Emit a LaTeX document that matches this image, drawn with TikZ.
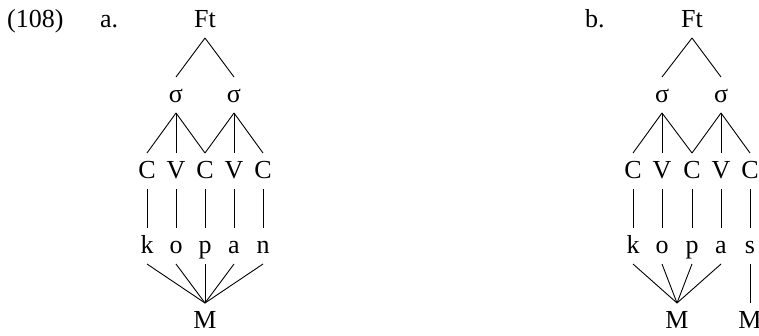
\documentclass[tikz,border=0pt]{standalone}
\usepackage{fontspec}
\setmainfont{Liberation Serif}
\begin{document}
\begin{tikzpicture}[x=1pt,y=-1pt,
  seg/.style={inner sep=0pt, outer sep=0pt, text height=25pt, text depth=11pt, anchor=base, font=\fontsize{26}{30}\selectfont},
  lbl/.style={inner sep=0pt, anchor=base west, font=\fontsize{26}{30}\selectfont},
  assoc/.style={draw, line width=0.9pt}]
\useasboundingbox (0,0) rectangle (759,335);
\node[lbl] (num) at (7,27) {(108)};
% tree a
\node[lbl] (la) at (100,27) {a.};
\node[seg] (aFt) at (205,27) {Ft};
\node[seg] (as1) at (176,102) {σ};
\node[seg] (as2) at (234,102) {σ};
\node[seg] (aC1) at (147,178) {C};
\node[seg] (aV1) at (176,178) {V};
\node[seg] (aC2) at (205,178) {C};
\node[seg] (aV2) at (234,178) {V};
\node[seg] (aC3) at (263,178) {C};
\node[seg] (ak) at (147,253) {k};
\node[seg] (ao) at (176,253) {o};
\node[seg] (ap) at (205,253) {p};
\node[seg] (aa) at (234,253) {a};
\node[seg] (an) at (263,253) {n};
\node[seg] (aM) at (205,328) {M};
\draw[assoc] (aFt.south) -- (as1.north);
\draw[assoc] (aFt.south) -- (as2.north);
\draw[assoc] (as1.south) -- (aC1.north);
\draw[assoc] (as1.south) -- (aV1.north);
\draw[assoc] (as1.south) -- (aC2.north);
\draw[assoc] (as2.south) -- (aC2.north);
\draw[assoc] (as2.south) -- (aV2.north);
\draw[assoc] (as2.south) -- (aC3.north);
\draw[assoc] (aC1.south) -- (ak.north);
\draw[assoc] (aV1.south) -- (ao.north);
\draw[assoc] (aC2.south) -- (ap.north);
\draw[assoc] (aV2.south) -- (aa.north);
\draw[assoc] (aC3.south) -- (an.north);
\foreach \s in {ak,ao,ap,aa,an} \draw[assoc] (\s.south) -- (aM.north);
% tree b
\node[lbl] (lb) at (585,27) {b.};
\node[seg] (bFt) at (692,27) {Ft};
\node[seg] (bs1) at (662,102) {σ};
\node[seg] (bs2) at (721,102) {σ};
\node[seg] (bC1) at (633,178) {C};
\node[seg] (bV1) at (662,178) {V};
\node[seg] (bC2) at (692,178) {C};
\node[seg] (bV2) at (721,178) {V};
\node[seg] (bC3) at (750,178) {C};
\node[seg] (bk) at (633,253) {k};
\node[seg] (bo) at (662,253) {o};
\node[seg] (bp) at (692,253) {p};
\node[seg] (ba) at (721,253) {a};
\node[seg] (bs) at (750,253) {s};
\node[seg] (bM1) at (677,328) {M};
\node[seg] (bM2) at (750,328) {M};
\draw[assoc] (bFt.south) -- (bs1.north);
\draw[assoc] (bFt.south) -- (bs2.north);
\draw[assoc] (bs1.south) -- (bC1.north);
\draw[assoc] (bs1.south) -- (bV1.north);
\draw[assoc] (bs1.south) -- (bC2.north);
\draw[assoc] (bs2.south) -- (bC2.north);
\draw[assoc] (bs2.south) -- (bV2.north);
\draw[assoc] (bs2.south) -- (bC3.north);
\draw[assoc] (bC1.south) -- (bk.north);
\draw[assoc] (bV1.south) -- (bo.north);
\draw[assoc] (bC2.south) -- (bp.north);
\draw[assoc] (bV2.south) -- (ba.north);
\draw[assoc] (bC3.south) -- (bs.north);
\foreach \s in {bk,bo,bp,ba} \draw[assoc] (\s.south) -- (bM1.north);
\draw[assoc] (bs.south) -- (bM2.north);
\end{tikzpicture}
\end{document}
